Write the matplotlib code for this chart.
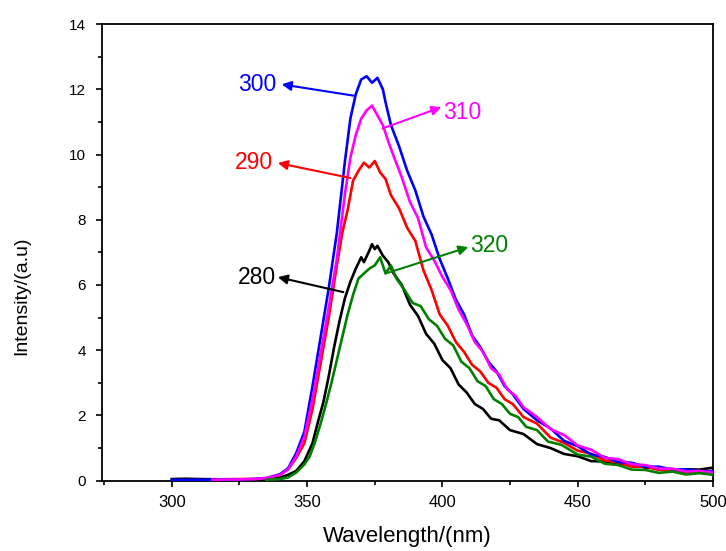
import matplotlib
matplotlib.use("Agg")
import matplotlib.pyplot as plt
from matplotlib.ticker import MultipleLocator

plt.rcParams['font.family'] = ['Liberation Sans', 'DejaVu Sans']

# ---- data ----
x_300 = [300, 310, 320, 330, 335, 340, 343, 346, 349, 352, 355, 358, 361, 364, 366, 368, 370, 372, 374, 376,
         378, 379, 381, 384, 387, 390, 393, 396, 399, 402, 405, 408, 411, 414, 417, 420, 423, 426, 430,
         435, 440, 445, 450, 455, 460, 465, 470, 475, 480, 485, 490, 495, 500]
y_300 = [0.02, 0.03, 0.03, 0.05, 0.08, 0.2, 0.38, 0.85, 1.5, 2.9, 4.4, 5.9, 7.6, 9.8, 11.1, 11.85, 12.3, 12.4, 12.2, 12.35,
         12.0, 11.6, 10.9, 10.25, 9.5, 8.9, 8.1, 7.55, 6.8, 6.2, 5.55, 5.1, 4.45, 4.1, 3.65, 3.35, 2.9, 2.65, 2.2,
         1.85, 1.6, 1.22, 1.06, 0.8, 0.73, 0.57, 0.55, 0.43, 0.43, 0.34, 0.35, 0.28, 0.3]

x_310 = [315, 325, 330, 335, 340, 343, 346, 349, 352, 355, 358, 361, 364, 366, 368, 370, 372, 374, 376, 378,
         380, 382, 385, 388, 391, 394, 397, 400, 403, 406, 409, 412, 415, 418, 421, 424, 427, 430, 435,
         440, 445, 450, 455, 460, 465, 470, 475, 480, 485, 490, 495, 500]
y_310 = [0.03, 0.04, 0.05, 0.08, 0.18, 0.35, 0.75, 1.35, 2.5, 3.9, 5.3, 6.8, 8.8, 9.9, 10.6, 11.1, 11.35, 11.5, 11.2, 10.9,
         10.4, 9.95, 9.3, 8.55, 8.05, 7.15, 6.75, 6.25, 5.85, 5.25, 4.8, 4.25, 3.95, 3.45, 3.25, 2.8, 2.6, 2.25, 1.95,
         1.58, 1.4, 1.08, 0.95, 0.7, 0.66, 0.5, 0.48, 0.37, 0.37, 0.28, 0.3, 0.25]

x_290 = [315, 325, 330, 335, 340, 343, 346, 349, 352, 355, 358, 361, 363, 365, 367, 369, 371, 373, 375, 377,
         379, 381, 384, 387, 390, 393, 396, 399, 402, 405, 408, 411, 414, 417, 420, 423, 426, 430, 435,
         440, 445, 450, 455, 460, 465, 470, 475, 480, 485, 490, 495, 500]
y_290 = [0.04, 0.05, 0.05, 0.07, 0.18, 0.35, 0.7, 1.15, 2.2, 3.6, 5.0, 6.6, 7.6, 8.3, 9.2, 9.5, 9.75, 9.6, 9.8, 9.45,
         9.25, 8.75, 8.35, 7.75, 7.35, 6.45, 5.85, 5.1, 4.75, 4.25, 3.95, 3.55, 3.35, 3.0, 2.85, 2.5, 2.35, 1.95, 1.75,
         1.32, 1.16, 0.92, 0.83, 0.62, 0.56, 0.43, 0.43, 0.33, 0.33, 0.26, 0.29, 0.25]

x_280 = [300, 305, 310, 320, 330, 335, 340, 343, 346, 349, 352, 354, 356, 358, 360, 362, 364, 366, 368, 370,
         371, 373, 374, 375, 376, 378, 380, 382, 385, 388, 391, 394, 397, 400, 403, 406, 409, 412, 415,
         418, 421, 425, 430, 435, 440, 445, 450, 455, 460, 465, 470, 475, 480, 485, 490, 495, 500]
y_280 = [0.05, 0.06, 0.05, 0.04, 0.04, 0.05, 0.1, 0.18, 0.3, 0.6, 1.15, 1.8, 2.4, 3.2, 4.1, 4.9, 5.6, 6.1, 6.5, 6.85,
         6.7, 7.05, 7.25, 7.1, 7.2, 6.9, 6.7, 6.35, 6.0, 5.4, 5.05, 4.5, 4.2, 3.7, 3.45, 2.95, 2.7, 2.35, 2.2,
         1.9, 1.85, 1.55, 1.43, 1.12, 1.0, 0.82, 0.75, 0.6, 0.59, 0.51, 0.5, 0.4, 0.4, 0.33, 0.35, 0.34, 0.4]

x_320 = [335, 340, 343, 346, 349, 351, 353, 355, 357, 359, 361, 363, 365, 367, 369, 371, 373, 375, 377, 379,
         381, 383, 386, 389, 392, 395, 398, 401, 404, 407, 410, 413, 416, 419, 422, 425, 428, 431, 435,
         439, 444, 450, 455, 460, 465, 470, 475, 480, 485, 490, 495, 500]
y_320 = [0.03, 0.05, 0.1, 0.25, 0.5, 0.75, 1.2, 1.75, 2.35, 3.0, 3.7, 4.4, 5.1, 5.7, 6.2, 6.35, 6.5, 6.6, 6.85, 6.35,
         6.6, 6.2, 5.85, 5.45, 5.35, 4.95, 4.75, 4.35, 4.15, 3.65, 3.45, 3.05, 2.9, 2.5, 2.35, 2.05, 1.95, 1.65, 1.55,
         1.2, 1.1, 0.8, 0.74, 0.52, 0.48, 0.34, 0.33, 0.24, 0.28, 0.19, 0.23, 0.18]

series = [
    ("280", x_280, y_280, "black"),
    ("290", x_290, y_290, "#ff0000"),
    ("300", x_300, y_300, "#0000ff"),
    ("310", x_310, y_310, "#ff00ff"),
    ("320", x_320, y_320, "#008000"),
]

# label annotations: (text, text position, arrow head, arrow tail, ha, colour)
labels = [
    ("300", (338.8, 12.15), (340.6, 12.15), (367.5, 11.8), "right", "#0000ff"),
    ("310", (400.3, 11.3), (399.6, 11.45), (377.9, 10.8), "left", "#ff00ff"),
    ("290", (337.4, 9.77), (339.2, 9.74), (366.0, 9.28), "right", "#ff0000"),
    ("320", (410.3, 7.2), (409.6, 7.16), (379.7, 6.37), "left", "#008000"),
    ("280", (338.4, 6.24), (339.2, 6.24), (363.4, 5.78), "right", "black"),
]

fig = plt.figure(figsize=(7.26, 5.51), dpi=100)
ax = fig.add_axes([0.1405, 0.1276, 0.8415, 0.8288])

for name, xs, ys, c in series:
    ax.plot(xs, ys, color=c, lw=1.9, zorder=3)

for txt, tpos, head, tail, ha, c in labels:
    ax.annotate('', xy=head, xytext=tail,
                arrowprops=dict(arrowstyle='-|>', color=c, lw=1.5, mutation_scale=14,
                                shrinkA=0, shrinkB=0), zorder=4)
    ax.text(tpos[0], tpos[1], txt, color=c, fontsize=16.5, ha=ha, va='center', zorder=4)

ax.set_xlim(274.2, 500)
ax.set_ylim(0, 14)
ax.xaxis.set_major_locator(MultipleLocator(50))
ax.xaxis.set_minor_locator(MultipleLocator(25))
ax.yaxis.set_major_locator(MultipleLocator(2))
ax.yaxis.set_minor_locator(MultipleLocator(1))
ax.tick_params(axis='both', which='both', direction='out', top=False, right=False, width=1.2)
ax.tick_params(axis='both', which='major', length=4.5)
ax.tick_params(axis='both', which='minor', length=3)
ax.tick_params(axis='x', labelsize=12, pad=6)
ax.tick_params(axis='y', labelsize=11, pad=7)
for s in ax.spines.values():
    s.set_linewidth(1.3)

ax.set_xlabel("Wavelength/(nm)", fontsize=16)
ax.xaxis.set_label_coords(0.5, -0.1)
ax.set_ylabel("Intensity/(a.u)", fontsize=14)
ax.yaxis.set_label_coords(-0.118, 0.404)

fig.savefig("out.png", dpi=100)
